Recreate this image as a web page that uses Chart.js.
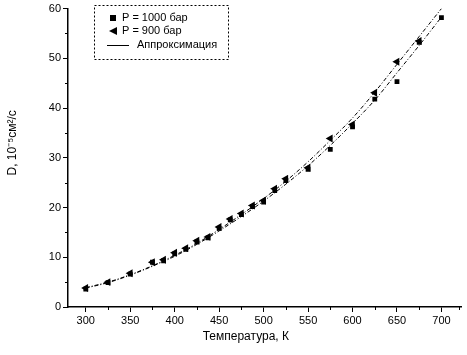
<!DOCTYPE html>
<html lang="ru">
  <head>
    <meta charset="UTF-8" />
    <title>D(T)</title>
    <style>
      body {
        margin: 0;
        background: #fff;
      }
      .chart-container {
        width: 467px;
        height: 355px;
        position: relative;
      }
    </style>
  </head>
  <body>
    <div class="chart-container">
      <canvas id="diffChart"></canvas>
    </div>
    <script src="https://cdn.jsdelivr.net/npm/chart.js"></script>
    <script>
      // measured points, T in K, D in 10^-5 cm2/s
      const temps1000 = [300, 325, 350, 375, 387.5, 400, 412.5, 425, 437.5, 450, 462.5, 475, 487.5, 500, 512.5, 525, 550, 575, 600, 625, 650, 675, 700];
      const d1000 = [3.6, 4.9, 6.6, 9.0, 9.3, 10.7, 11.6, 13.1, 13.9, 15.8, 17.5, 18.6, 20.2, 21.1, 23.4, 25.4, 27.7, 31.7, 36.2, 41.8, 45.3, 53.2, 58.2];
      const temps900 = [300, 325, 350, 375, 387.5, 400, 412.5, 425, 437.5, 450, 462.5, 475, 487.5, 500, 512.5, 525, 550, 575, 600, 625, 650, 675];
      const d900 = [3.8, 5.0, 6.8, 9.0, 9.5, 10.9, 11.8, 13.3, 14.1, 16.1, 17.7, 18.8, 20.4, 21.4, 23.8, 25.8, 28.0, 33.9, 36.7, 43.1, 49.3, 53.5];

      // approximation curves
      const fitTemps = [300, 325, 350, 375, 400, 425, 450, 475, 500, 525, 550, 575, 600, 625, 650, 675, 700];
      const fit900 = [3.9, 5.0, 6.5, 8.3, 10.4, 12.8, 15.6, 18.6, 21.8, 25.3, 29.2, 33.5, 38.0, 43.2, 48.8, 54.4, 60.0];
      const fit1000 = [3.8, 4.9, 6.4, 8.2, 10.2, 12.6, 15.3, 18.2, 21.3, 24.7, 28.4, 32.5, 36.9, 41.6, 47.1, 52.6, 58.3];

      const xTicks = [300, 350, 400, 450, 500, 550, 600, 650, 700];
      const xMinor = [325, 375, 425, 475, 525, 575, 625, 675, 720];
      const yTicks = [0, 10, 20, 30, 40, 50, 60];
      const yMinor = [5, 15, 25, 35, 45, 55];

      const legendLabels = ["P = 1000 бар", "P = 900 бар", "Аппроксимация"];
      const xTitle = "Температура, К";
      const yTitle = "D, 10⁻⁵см²/с";

      const fontFamily = "'Liberation Sans', Arial, sans-serif";
      const toXY = (xs, ys) => xs.map((x, i) => ({ x: x, y: ys[i] }));

      const minorTicks = {
        id: "minorTicks",
        afterDraw(chart) {
          const ctx = chart.ctx;
          const xs = chart.scales.x;
          const ys = chart.scales.y;
          ctx.save();
          ctx.strokeStyle = "#000";
          ctx.lineWidth = 1;
          ctx.beginPath();
          xMinor.forEach((v) => {
            const px = Math.round(xs.getPixelForValue(v)) + 0.5;
            ctx.moveTo(px, ys.bottom);
            ctx.lineTo(px, ys.bottom + 3);
          });
          yMinor.forEach((v) => {
            const py = Math.round(ys.getPixelForValue(v)) + 0.5;
            ctx.moveTo(xs.left, py);
            ctx.lineTo(xs.left - 3, py);
          });
          ctx.stroke();

          // axis titles (slightly off-centre like the original)
          ctx.fillStyle = "#000";
          ctx.textAlign = "center";
          ctx.textBaseline = "middle";
          ctx.font = "12px " + fontFamily;
          ctx.fillText(xTitle, xs.getPixelForValue(480), 337);
          ctx.translate(13, ys.getPixelForValue(33));
          ctx.rotate(-Math.PI / 2);
          ctx.fillText(yTitle, 0, 0);
          ctx.restore();
        },
      };

      const boxLegend = {
        id: "boxLegend",
        afterDraw(chart) {
          const ctx = chart.ctx;
          ctx.save();
          ctx.strokeStyle = "#000";
          ctx.lineWidth = 1;
          ctx.setLineDash([2, 2]);
          ctx.strokeRect(94.5, 5.5, 134, 54);
          ctx.setLineDash([]);
          ctx.fillStyle = "#000";
          // square
          ctx.fillRect(110, 15, 6, 6);
          // left triangle
          ctx.beginPath();
          ctx.moveTo(109, 31);
          ctx.lineTo(117, 27);
          ctx.lineTo(117, 35);
          ctx.closePath();
          ctx.fill();
          // line
          ctx.beginPath();
          ctx.moveTo(107, 45.5);
          ctx.lineTo(129, 45.5);
          ctx.stroke();
          ctx.font = "11px " + fontFamily;
          ctx.textBaseline = "middle";
          ctx.fillText(legendLabels[0], 122, 18);
          ctx.fillText(legendLabels[1], 122, 31);
          ctx.fillText(legendLabels[2], 137, 45);
          ctx.restore();
        },
      };

      const font = { family: fontFamily, size: 11 };

      const config = {
        type: "scatter",
        data: {
          datasets: [
            {
              label: legendLabels[0],
              data: toXY(temps1000, d1000),
              pointStyle: "rect",
              radius: 3.4,
              backgroundColor: "#000",
              borderColor: "#000",
              borderWidth: 0,
            },
            {
              label: legendLabels[1],
              data: toXY(temps900, d900),
              pointStyle: "triangle",
              rotation: -90,
              radius: 4.6,
              backgroundColor: "#000",
              borderColor: "#000",
              borderWidth: 0,
            },
            {
              label: legendLabels[2],
              data: toXY(fitTemps, fit900),
              showLine: true,
              pointRadius: 0,
              borderColor: "#000",
              borderWidth: 1,
              borderDash: [4, 2, 1, 2],
              cubicInterpolationMode: "monotone",
            },
            {
              label: legendLabels[2],
              data: toXY(fitTemps, fit1000),
              showLine: true,
              pointRadius: 0,
              borderColor: "#000",
              borderWidth: 1,
              borderDash: [4, 2, 1, 2],
              cubicInterpolationMode: "monotone",
            },
          ],
        },
        options: {
          responsive: true,
          maintainAspectRatio: false,
          animation: false,
          layout: { padding: { top: 5, right: 6, left: 0, bottom: 0 } },
          plugins: {
            legend: { display: false },
            tooltip: { enabled: false },
          },
          scales: {
            x: {
              type: "linear",
              min: 280,
              max: 722,
              afterBuildTicks: (axis) => {
                axis.ticks = xTicks.map((v) => ({ value: v }));
              },
              afterFit: (axis) => {
                axis.height = 48;
              },
              border: { display: true, color: "#000", width: 1.5 },
              grid: { drawOnChartArea: false, drawTicks: true, tickLength: 5, color: "#000" },
              ticks: { color: "#000", font: font, padding: 2, maxRotation: 0 },
            },
            y: {
              type: "linear",
              min: 0,
              max: 60,
              afterBuildTicks: (axis) => {
                axis.ticks = yTicks.map((v) => ({ value: v }));
              },
              afterFit: (axis) => {
                axis.width = 68;
              },
              border: { display: true, color: "#000", width: 1.5 },
              grid: { drawOnChartArea: false, drawTicks: true, tickLength: 5, color: "#000" },
              ticks: { color: "#000", font: font, padding: 2 },
            },
          },
        },
        plugins: [minorTicks, boxLegend],
      };

      new Chart(document.getElementById("diffChart"), config);
    </script>
  </body>
</html>
